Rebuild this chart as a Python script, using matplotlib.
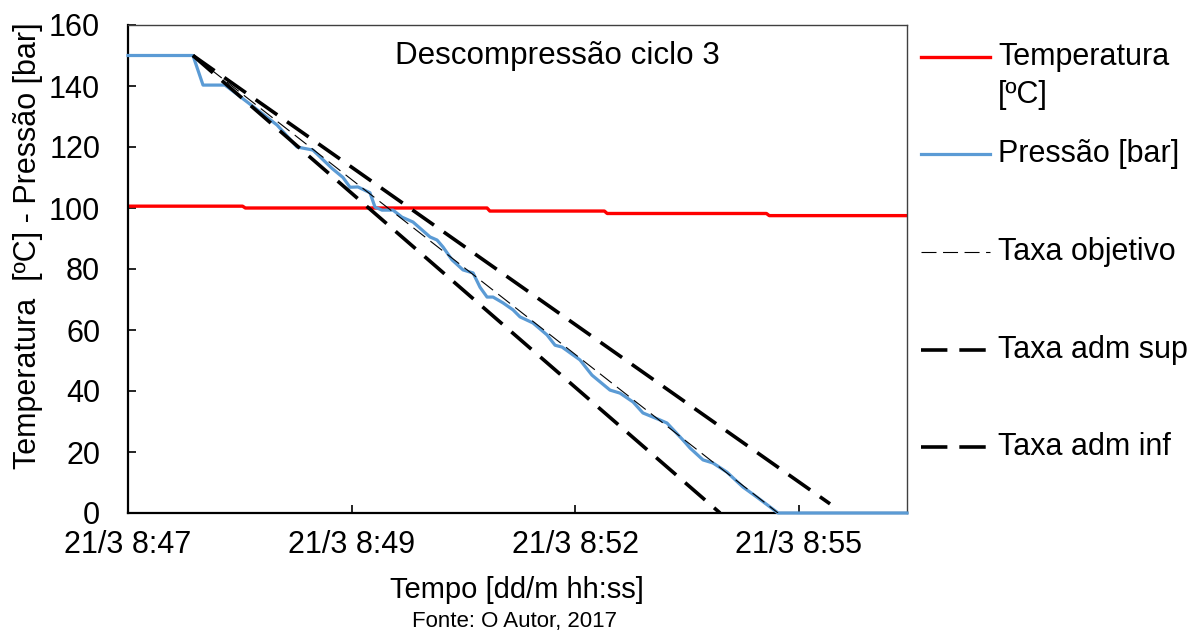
import matplotlib
matplotlib.use("Agg")
import matplotlib.pyplot as plt
from matplotlib.lines import Line2D

plt.rcParams['font.family'] = ['Liberation Sans', 'DejaVu Sans']
plt.rcParams['lines.scale_dashes'] = False

# tempo em segundos desde 21/3 8:47:00
t_temp = [0, 82, 84, 257, 259, 341, 343, 457, 459, 557.6]
temperatura = [100.6, 100.6, 100.0, 100.0, 99.0, 99.0, 98.2, 98.2, 97.5, 97.5]

t_pres = [0, 46.5, 53.7, 69.4, 85.2, 106.7, 121.0, 132.4, 146.0, 153.9, 158.9,
          164.6, 173.2, 176.8, 181.8, 189.7, 196.1, 204.0, 216.2, 221.2, 225.5,
          231.9, 239.8, 247.0, 252.0, 257.0, 261.3, 268.4, 275.6, 280.6, 289.9,
          299.9, 305.7, 310.7, 323.5, 332.1, 345.0, 352.2, 361.5, 368.6, 380.8,
          385.8, 397.3, 402.3, 411.6, 418.7, 428.7, 440.2, 450.2, 459.5, 465.3,
          557.6]
pressao = [150, 150, 140.3, 140.3, 134.8, 127.2, 120.0, 119.0, 113.0, 110.0, 106.8,
           106.9, 105.0, 100.3, 99.3, 99.3, 97.0, 95.4, 90.5, 89.5, 87.2,
           83.0, 79.7, 78.7, 74.0, 70.8, 70.8, 68.9, 66.6, 64.3, 62.3,
           58.4, 55.0, 54.4, 50.2, 45.2, 40.3, 39.3, 36.4, 32.8, 30.5,
           29.5, 23.9, 21.3, 17.4, 16.4, 13.4, 8.5, 5.2, 2.0, 0.0,
           0.0]

t_obj = [46.5, 465.3]
taxa_obj = [150, 0]
t_sup = [46.5, 502.5]
taxa_sup = [150, 3]
t_inf = [46.5, 423.8]
taxa_inf = [150, 0]

x_ticks = [0, 160, 320, 480]
x_ticklabels = ['21/3 8:47', '21/3 8:49', '21/3 8:52', '21/3 8:55']
x_max = 557.6

fig = plt.figure(figsize=(12.02, 6.38), dpi=100)
ax = fig.add_axes([128 / 1202, 1 - 513 / 638, 779 / 1202, 488 / 638])

ax.plot(t_temp, temperatura, color='#FF0000', lw=2.4, label='Temperatura [ºC]', zorder=2)
ax.plot(t_pres, pressao, color='#5B9BD5', lw=2.3, label='Pressão [bar]',
        zorder=2.6, clip_on=False)
ax.plot(t_obj, taxa_obj, color='black', lw=0.8, dashes=(10.8, 4.7),
        label='Taxa objetivo', zorder=2.7)
ax.plot(t_sup, taxa_sup, color='black', lw=2.6, dashes=(19, 8.6),
        label='Taxa adm sup', zorder=2.7)
ax.plot(t_inf, taxa_inf, color='black', lw=2.6, dashes=(19, 8.6),
        label='Taxa adm inf', zorder=2.7)

ax.set_xlim(0, x_max)
ax.set_ylim(0, 160)
ax.set_yticks(range(0, 161, 20))
ax.set_xticks(x_ticks)
ax.set_xticklabels(x_ticklabels)
ax.tick_params(axis='both', direction='in', length=6, width=1.2, labelsize=22)
ax.tick_params(axis='y', pad=20)
ax.tick_params(axis='x', pad=12)

for s in ['left', 'bottom']:
    ax.spines[s].set_linewidth(1.6)
    ax.spines[s].set_color('black')
for s in ['top', 'right']:
    ax.spines[s].set_linewidth(1.0)
    ax.spines[s].set_color('#404040')

ax.text(0.551, 0.936, 'Descompressão ciclo 3', transform=ax.transAxes,
        ha='center', va='center', fontsize=22.6)

fig.text(28 / 1202, 1 - 246 / 638, 'Temperatura  [ºC] - Pressão [bar]',
         rotation=90, ha='center', va='center', fontsize=22)
fig.text(517 / 1202, 1 - 590 / 638, 'Tempo [dd/m hh:ss]',
         ha='center', va='center', fontsize=21)
fig.text(515 / 1202, 1 - 621 / 638, 'Fonte: O Autor, 2017',
         ha='center', va='center', fontsize=16)

# legenda desenhada a mao (como no Excel)
rows = [57, 154, 252, 350, 447]
for line, y in zip(ax.get_lines(), rows):
    yf = 1 - y / 638
    h = Line2D([921 / 1202, 990 / 1202], [yf, yf], transform=fig.transFigure,
               color=line.get_color(), lw=line.get_linewidth(),
               linestyle=line.get_linestyle())
    if line.get_label().startswith('Taxa'):
        h.set_dashes(line._unscaled_dash_pattern[1])
    fig.add_artist(h)
    lab = line.get_label()
    if lab.startswith('Temperatura'):
        fig.text(998 / 1202, yf, 'Temperatura', ha='left', va='center', fontsize=22)
        fig.text(998 / 1202, 1 - 95 / 638, '[ºC]', ha='left', va='center', fontsize=22)
    else:
        fig.text(998 / 1202, yf, lab, ha='left', va='center', fontsize=22)

fig.savefig('out.png', dpi=100)
